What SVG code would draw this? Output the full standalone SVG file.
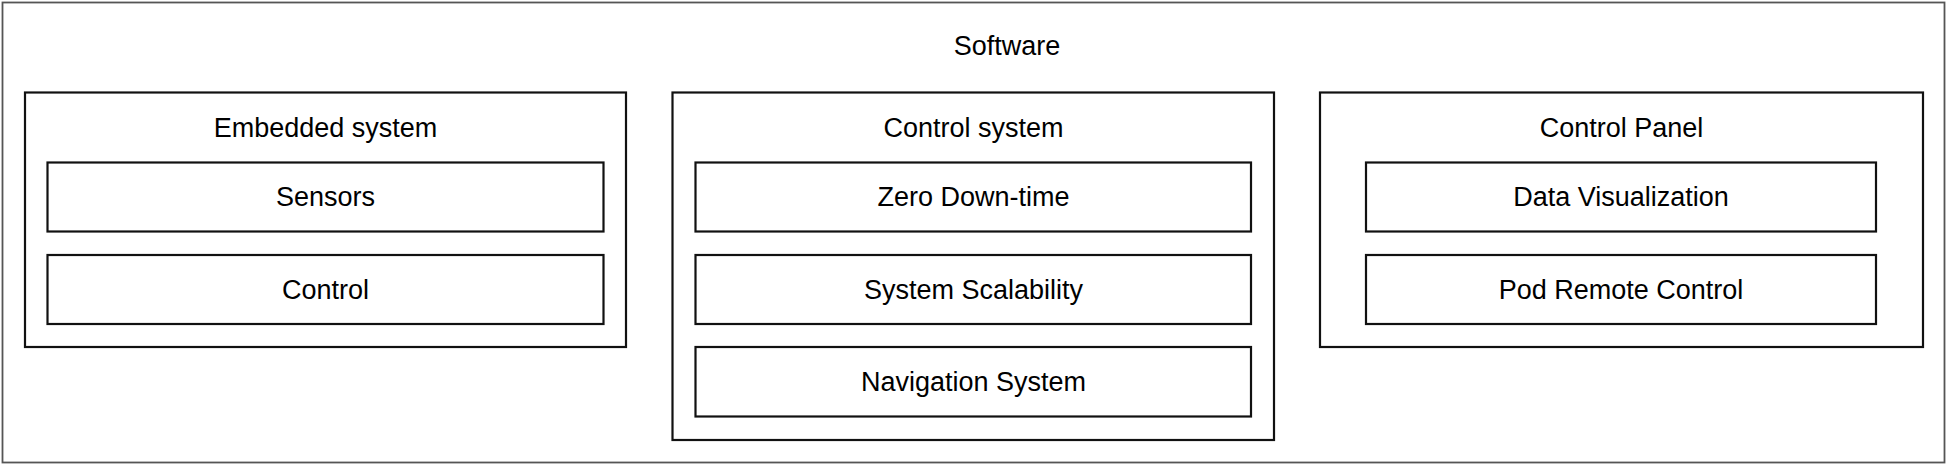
<svg xmlns="http://www.w3.org/2000/svg" width="1949" height="467" viewBox="0 0 1949 467">
<style>
.box{fill:#fff;stroke:#111;stroke-width:2.2}
.frame{fill:#fff;stroke:#555;stroke-width:1.8}
text{font-family:"Liberation Sans",Arial,sans-serif;font-size:27px;fill:#000;text-anchor:middle}
</style>
<rect width="1949" height="467" fill="#fff"/>
<g id="software">
<rect class="frame" x="2.5" y="2.5" width="1942" height="460"/>
<text x="1007" y="55">Software</text>
</g>
<g id="embedded-system">
<rect class="box" x="25" y="92.5" width="601" height="254.5"/>
<text x="325.5" y="136.5">Embedded system</text>
</g>
<g id="sensors">
<rect class="box" x="47.5" y="162.5" width="556" height="69"/>
<text x="325.5" y="206">Sensors</text>
</g>
<g id="control">
<rect class="box" x="47.5" y="255" width="556" height="69"/>
<text x="325.5" y="298.5">Control</text>
</g>
<g id="control-system">
<rect class="box" x="672.5" y="92.5" width="601.5" height="347.5"/>
<text x="973.5" y="136.5">Control system</text>
</g>
<g id="zero-downtime">
<rect class="box" x="695.5" y="162.5" width="555.5" height="69"/>
<text x="973.5" y="206">Zero Down-time</text>
</g>
<g id="system-scalability">
<rect class="box" x="695.5" y="255" width="555.5" height="69"/>
<text x="973.5" y="298.5">System Scalability</text>
</g>
<g id="navigation-system">
<rect class="box" x="695.5" y="347" width="555.5" height="69.5"/>
<text x="973.5" y="390.5">Navigation System</text>
</g>
<g id="control-panel">
<rect class="box" x="1320" y="92.5" width="603" height="254.5"/>
<text x="1621.5" y="136.5">Control Panel</text>
</g>
<g id="data-visualization">
<rect class="box" x="1366" y="162.5" width="510" height="69"/>
<text x="1621" y="206">Data Visualization</text>
</g>
<g id="pod-remote-control">
<rect class="box" x="1366" y="255" width="510" height="69"/>
<text x="1621" y="298.5">Pod Remote Control</text>
</g>
<g id="connectors"></g>
</svg>
